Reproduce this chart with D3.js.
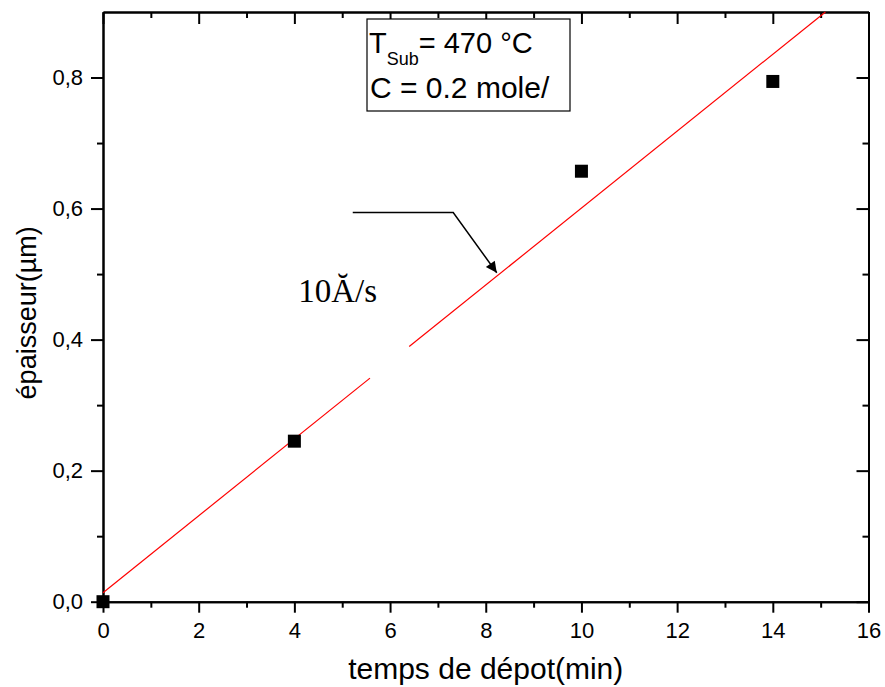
<!DOCTYPE html>
<html lang="fr">
<head>
<meta charset="utf-8">
<title>épaisseur vs temps de dépot</title>
<script src="https://cdn.jsdelivr.net/npm/d3@7"></script>
<style>
  body { margin: 0; background: #fff; }
  text { font-family: "Liberation Sans", Arial, sans-serif; fill: #000; }
  .axis path, .axis line { stroke: #000; stroke-width: 2px; }
</style>
</head>
<body>
<script>

// measured points
var temps = [0, 4, 10, 14];
var epaisseur = [0.0, 0.245, 0.657, 0.794];

// linear fit (red line), drawn in two pieces with a gap
var fitIntercept = 0.0137;
var fitSlope = 0.0587;
var fitPieces = [[0, 5.58], [6.40, 15.10]];

// annotation arrow and label, in data units
var arrowPts = [[5.22, 0.594], [7.32, 0.594], [8.23, 0.502]];
var rateLabel = "10Ă/s";
var rateAt = [4.08, 0.458];

var xMajor = [0, 2, 4, 6, 8, 10, 12, 14, 16];
var xMinor = [1, 3, 5, 7, 9, 11, 13, 15];
var yMajor = [0, 0.2, 0.4, 0.6, 0.8];
var yMinor = [0.1, 0.3, 0.5, 0.7];

var W = 885, H = 687;
var margin = {left: 103, top: 12, right: 16.5, bottom: 85.3};
var w = W - margin.left - margin.right;
var h = H - margin.top - margin.bottom;

var svg = d3.select("body").append("svg")
    .attr("width", W)
    .attr("height", H);

var g = svg.append("g")
    .attr("transform", "translate(" + margin.left + "," + margin.top + ")");

var x = d3.scaleLinear().domain([0, 16]).range([0, w]);
var y = d3.scaleLinear().domain([0, 0.9]).range([h, 0]);

var comma = function(d) { return d3.format(".1f")(d).replace(".", ","); };

//Axes

g.append("g").attr("class", "axis")
    .attr("transform", "translate(0," + h + ")")
    .call(d3.axisBottom(x).tickValues(xMajor).tickSize(11).tickSizeOuter(0).tickPadding(10))
    .selectAll("text").style("font-size", "22px");

g.append("g").attr("class", "axis")
    .attr("transform", "translate(0," + h + ")")
    .call(d3.axisBottom(x).tickValues(xMinor).tickSize(6).tickSizeOuter(0).tickFormat(""));

g.append("g").attr("class", "axis")
    .call(d3.axisTop(x).tickValues(xMajor).tickSize(-12).tickSizeOuter(0).tickFormat(""));

g.append("g").attr("class", "axis")
    .call(d3.axisTop(x).tickValues(xMinor).tickSize(-6).tickSizeOuter(0).tickFormat(""));

g.append("g").attr("class", "axis")
    .call(d3.axisLeft(y).tickValues(yMajor).tickSize(12).tickSizeOuter(0).tickPadding(8).tickFormat(comma))
    .selectAll("text").style("font-size", "22px");

g.append("g").attr("class", "axis")
    .call(d3.axisLeft(y).tickValues(yMinor).tickSize(6).tickSizeOuter(0).tickFormat(""));

g.append("g").attr("class", "axis")
    .attr("transform", "translate(" + w + ",0)")
    .call(d3.axisRight(y).tickValues(yMajor).tickSize(-12).tickSizeOuter(0).tickFormat(""));

g.append("g").attr("class", "axis")
    .attr("transform", "translate(" + w + ",0)")
    .call(d3.axisRight(y).tickValues(yMinor).tickSize(-6).tickSizeOuter(0).tickFormat(""));

//Axis titles

svg.append("text")
    .attr("x", margin.left + w / 2)
    .attr("y", 679)
    .attr("text-anchor", "middle")
    .style("font-size", "30px")
    .text("temps de dépot(min)");

svg.append("text")
    .attr("transform", "translate(36," + (margin.top + h / 2 + 6) + ") rotate(-90)")
    .attr("text-anchor", "middle")
    .style("font-size", "27px")
    .text("épaisseur(µm)");

//Fit line

var fit = d3.line()
    .x(function(d) { return x(d); })
    .y(function(d) { return y(fitIntercept + fitSlope * d); });

g.selectAll(".fit")
    .data(fitPieces)
    .enter()
    .append("path")
    .attr("class", "fit")
    .attr("d", fit)
    .attr("fill", "none")
    .attr("stroke", "#ff0000")
    .attr("stroke-width", 1.2);

//Points

var sq = 13;
g.selectAll(".pt")
    .data(temps)
    .enter()
    .append("rect")
    .attr("class", "pt")
    .attr("x", function(d) { return x(d) - sq / 2; })
    .attr("y", function(d, i) { return y(epaisseur[i]) - sq / 2; })
    .attr("width", sq)
    .attr("height", sq)
    .attr("fill", "#000");

//Arrow annotation

svg.append("defs").append("marker")
    .attr("id", "head")
    .attr("viewBox", "0 0 10 10")
    .attr("refX", 10)
    .attr("refY", 5)
    .attr("markerUnits", "userSpaceOnUse")
    .attr("markerWidth", 16)
    .attr("markerHeight", 11)
    .attr("orient", "auto")
    .append("path")
    .attr("d", "M0,0 L10,5 L0,10 Z")
    .attr("fill", "#000");

g.append("path")
    .attr("d", d3.line().x(function(d) { return x(d[0]); }).y(function(d) { return y(d[1]); })(arrowPts))
    .attr("fill", "none")
    .attr("stroke", "#000")
    .attr("stroke-width", 1.5)
    .attr("marker-end", "url(#head)");

g.append("text")
    .attr("x", x(rateAt[0]))
    .attr("y", y(rateAt[1]))
    .style("font-family", "'Liberation Serif', 'Times New Roman', serif")
    .style("font-size", "33px")
    .text(rateLabel);

//Legend box

var legend = svg.append("g");

legend.append("rect")
    .attr("x", 367)
    .attr("y", 19)
    .attr("width", 203)
    .attr("height", 92)
    .attr("fill", "#fff")
    .attr("stroke", "#000")
    .attr("stroke-width", 1.2);

var l1 = legend.append("text")
    .attr("x", 369)
    .attr("y", 53)
    .style("font-size", "29px");
l1.append("tspan").text("T");
l1.append("tspan").attr("dy", 12).style("font-size", "18px").text("Sub");
l1.append("tspan").attr("dy", -12).text("= 470 °C");

legend.append("text")
    .attr("x", 370)
    .attr("y", 98)
    .style("font-size", "30px")
    .text("C = 0.2 mole/");

</script>
</body>
</html>
